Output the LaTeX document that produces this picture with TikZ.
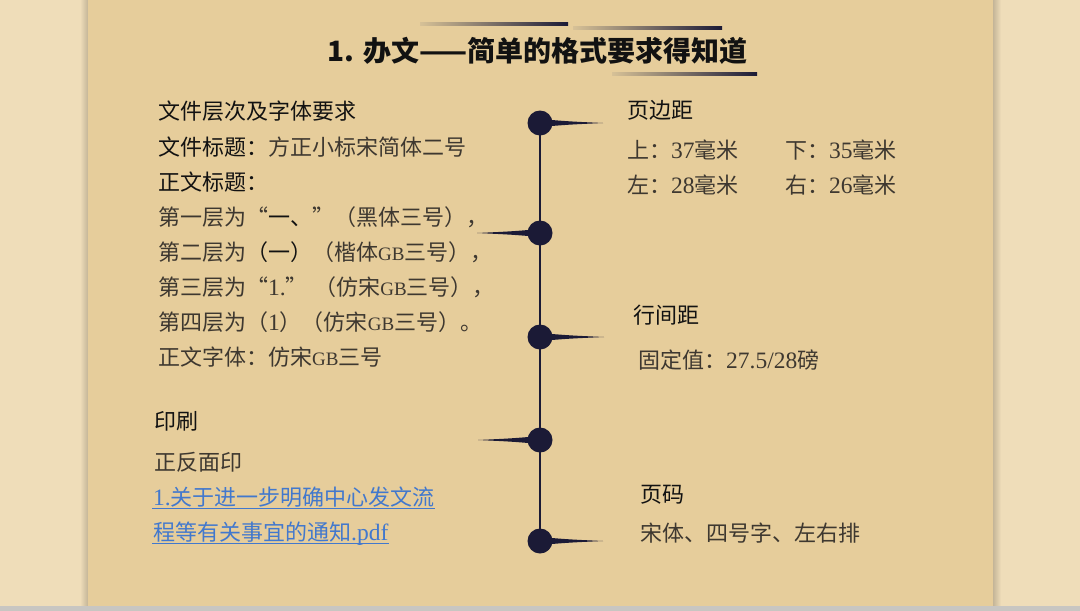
\documentclass[tikz,border=0pt]{standalone}
\usepackage{fontspec}
\setmainfont{Liberation Serif}
\newfontfamily\cjk{Noto Sans CJK SC}
\newfontfamily\lat{Liberation Serif}
\usetikzlibrary{calc}
\definecolor{outerbg}{RGB}{239,221,185}
\definecolor{slidebg}{RGB}{230,205,155}
\definecolor{navy}{RGB}{27,26,54}
\definecolor{bodytxt}{RGB}{62,56,48}
\definecolor{headtxt}{RGB}{18,18,18}
\definecolor{linkblue}{RGB}{66,120,205}
\definecolor{stripgray}{RGB}{200,198,194}
\newcommand\Lt[1]{{\lat\fontsize{23.5}{23.5}\selectfont #1}}
\newcommand\Gb[1]{{\lat\fontsize{19}{19}\selectfont #1}}
\begin{document}
\begin{tikzpicture}[x=1pt,y=-1pt,
  head/.style={anchor=base west,inner sep=0pt,font=\cjk\fontsize{22}{22}\selectfont,text=headtxt},
  body/.style={anchor=base west,inner sep=0pt,font=\cjk\fontsize{22}{22}\selectfont,text=bodytxt},
  linktxt/.style={body,text=linkblue},
  dot/.style={circle,fill=navy,minimum size=25pt,inner sep=0pt},
  spike/.style={fill=navy},
  deco/.style={left color=slidebg!85!gray,right color=navy}]
\useasboundingbox (0,0) rectangle (1080,611);
% backgrounds
\fill[outerbg] (0,0) rectangle (1080,611);
\shade[left color=outerbg,right color=outerbg!82!black] (80,0) rectangle (88,606);
\shade[left color=outerbg!82!black,right color=outerbg] (993,0) rectangle (1001,606);
\fill[slidebg] (88,0) rectangle (993,606);
\fill[stripgray] (0,606) rectangle (1080,611);
% title decoration
\shade[deco] (420,22.9) rectangle (568,25.1);
\shade[deco] (573,26.9) rectangle (722,29.1);
\shade[deco] (612,72.9) rectangle (757,75.1);
\node[anchor=base,inner sep=0pt,font=\cjk\bfseries\fontsize{28}{28}\selectfont,text=headtxt] (title) at (537.5,61.5) {1. 办文——简单的格式要求得知道};
% timeline
\node[dot] (c1) at (540,123) {};
\node[dot] (c2) at (540,233) {};
\node[dot] (c3) at (540,337) {};
\node[dot] (c4) at (540,440) {};
\node[dot] (c5) at (540,541) {};
\draw[navy,line width=2pt] (c1.center) -- (c5.center);
\coordinate (t1) at (603,123);
\coordinate (t2) at (477,233);
\coordinate (t3) at (604,337);
\coordinate (t4) at (478,440);
\coordinate (t5) at (603,541);
\foreach \c/\t in {c1/t1,c2/t2,c3/t3,c4/t4,c5/t5}{
  \fill[spike] ($(\c)+(0,-4)$) .. controls ($(\c)!0.45!(\t)+(0,-1.6)$) .. (\t)
    .. controls ($(\c)!0.45!(\t)+(0,1.6)$) .. ($(\c)+(0,4)$) -- cycle;
}
% left column
\node[head] (h1) at (158,119.5) {文件层次及字体要求};
\node[body] (l1) at (158,155.4) {{\color{headtxt}文件标题：}方正小标宋简体二号};
\node[head] (l2) at (158,190.4) {正文标题：};
\node[body] (l3) at (158,225.4) {第一层为“{\color{headtxt}一、}”（黑体三号），};
\node[body] (l4) at (158,260.4) {第二层为{\color{headtxt}（一）}（楷体\Gb{GB}三号），};
\node[body] (l5) at (158,295.4) {第三层为“\Lt{1.}” （仿宋\Gb{GB}三号），};
\node[body] (l6) at (158,330.4) {第四层为（\Lt{1}）（仿宋\Gb{GB}三号）。};
\node[body] (l7) at (158,365.4) {正文字体：仿宋\Gb{GB}三号};
\node[head] (h2) at (154,429.4) {印刷};
\node[body] (p1) at (154,470.4) {正反面印};
\node[linktxt] (k1) at (153,505.4) {\Lt{1.}关于进一步明确中心发文流};
\node[linktxt] (k2) at (153,540.4) {程等有关事宜的通知\Lt{.pdf}};
\draw[linkblue,line width=1pt] ($(k1.base west)+(-1,3)$) -- ($(k1.base east)+(0,3)$);
\draw[linkblue,line width=1pt] ($(k2.base west)+(-1,3)$) -- ($(k2.base east)+(0,3)$);
% right column
\node[head] (h3) at (627,118.4) {页边距};
\node[body] (m1) at (627,158.4) {上：\Lt{37}毫米};
\node[body] (m2) at (785,158.4) {下：\Lt{35}毫米};
\node[body] (m3) at (627,193.4) {左：\Lt{28}毫米};
\node[body] (m4) at (785,193.4) {右：\Lt{26}毫米};
\node[head] (h4) at (633,323.4) {行间距};
\node[body] (s1) at (638,368.4) {固定值：\Lt{27.5/28}磅};
\node[head] (h5) at (640,502.4) {页码};
\node[body] (g1) at (640,541.4) {宋体、四号字、左右排};
\end{tikzpicture}
\end{document}
